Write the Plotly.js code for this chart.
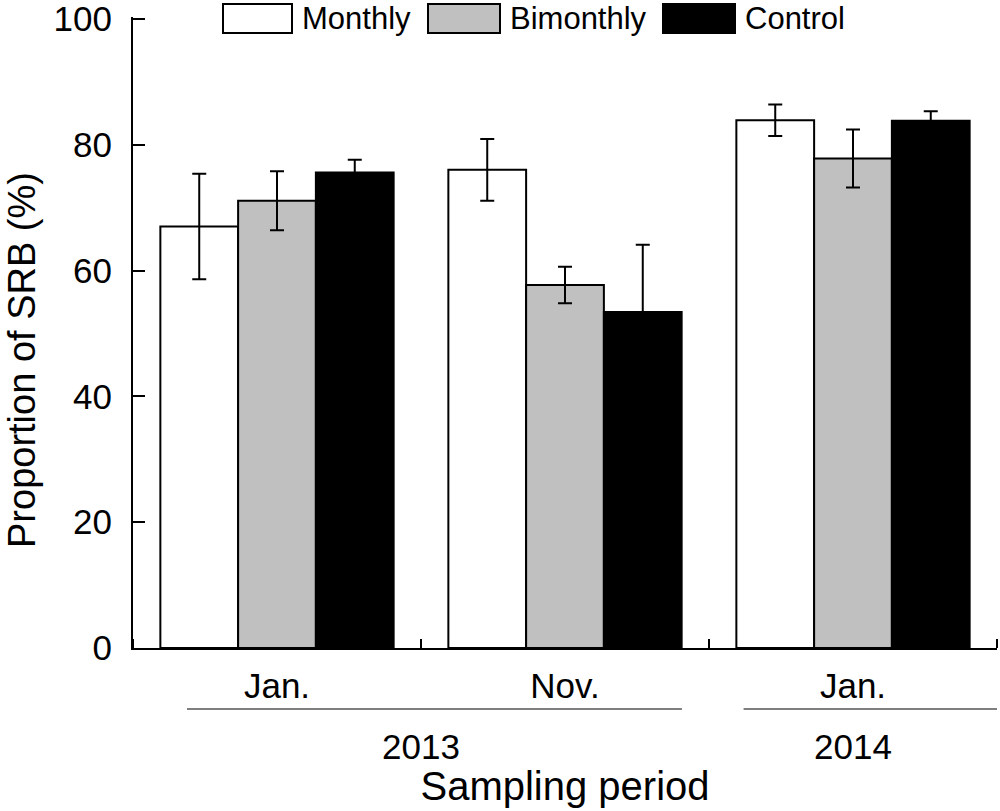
<!DOCTYPE html>
<html>
<head>
<meta charset="utf-8">
<script src="https://cdn.plot.ly/plotly-3.0.1.min.js"></script>
<style>html,body{margin:0;padding:0;background:#fff;}#chart{width:1000px;height:811px;}</style>
</head>
<body>
<div id="chart"></div>
<script>
// ---- data ----
var months = ["Jan.", "Nov.", "Jan."];
var years = ["2013", "2014"];
var seriesNames = ["Monthly", "Bimonthly", "Control"];
var monthly = [67.0, 76.0, 83.9];
var monthlyErr = [8.4, 4.9, 2.5];
var bimonthly = [71.1, 57.7, 77.8];
var bimonthlyErr = [4.7, 2.9, 4.6];
var control = [75.6, 53.4, 83.8];
var controlErr = [2.0, 10.7, 1.5];
var yTicks = [0, 20, 40, 60, 80, 100];

// ---- style ----
var FONT = "Liberation Sans, Arial, Helvetica, sans-serif";
var fills = ["#ffffff", "#c0c0c0", "#000000"];
var xIdx = months.map(function (_, i) { return i; });

function barTrace(name, vals, errs, fill) {
  return {
    type: "bar",
    name: name,
    x: xIdx,
    y: vals,
    marker: { color: fill, line: { color: "#000", width: 2 } },
    error_y: { type: "data", array: errs, visible: true, color: "#000", thickness: 2, width: 7 },
    showlegend: false,
    hoverinfo: "y+name"
  };
}

var data = [
  barTrace(seriesNames[0], monthly, monthlyErr, fills[0]),
  barTrace(seriesNames[1], bimonthly, bimonthlyErr, fills[1]),
  barTrace(seriesNames[2], control, controlErr, fills[2])
];

// plot-area geometry (pixels)
var PL = 133, PR = 997, PT = 17, PB = 648;
var YMAX = 100.3;
function px2x(px) { return (px - PL) / (PR - PL); }
function py2y(py) { return (PB - py) / (PB - PT); }

// legend (custom, large swatches)
var legendBoxes = [[223, 292], [428, 500], [663, 735]];
var legendTextX = [300, 508, 743];

var shapes = [];
var annotations = [];
seriesNames.forEach(function (n, i) {
  shapes.push({
    type: "rect", xref: "paper", yref: "paper",
    x0: px2x(legendBoxes[i][0]), x1: px2x(legendBoxes[i][1]),
    y0: py2y(33), y1: py2y(4),
    fillcolor: fills[i], line: { color: "#000", width: 2 }
  });
  annotations.push({
    xref: "paper", yref: "paper", x: px2x(legendTextX[i]), y: py2y(18.5),
    xanchor: "left", yanchor: "middle", showarrow: false,
    text: n, font: { family: FONT, size: 31, color: "#000" }
  });
});

// year group lines and labels
var yearSpans = [[-0.3125, 1.406], [1.62, 2.5]];
var yearCenters = [0.5, 2.0];
years.forEach(function (yr, i) {
  shapes.push({
    type: "line", xref: "x", yref: "paper",
    x0: yearSpans[i][0], x1: yearSpans[i][1],
    y0: py2y(709), y1: py2y(709),
    line: { color: "#555", width: 1.5 }
  });
  annotations.push({
    xref: "x", yref: "paper", x: yearCenters[i], y: py2y(746),
    xanchor: "center", yanchor: "middle", showarrow: false,
    text: yr, font: { family: FONT, size: 35, color: "#000" }
  });
});

// y-axis title (placed as in the reference, slightly below the plot centre)
annotations.push({
  xref: "paper", yref: "paper", x: px2x(22), y: py2y(360),
  xanchor: "center", yanchor: "middle", showarrow: false, textangle: -90,
  text: "Proportion of SRB (%)", font: { family: FONT, size: 38, color: "#000" }
});

var layout = {
  width: 1000,
  height: 811,
  paper_bgcolor: "#fff",
  plot_bgcolor: "#fff",
  margin: { l: PL, r: 1000 - PR, t: PT, b: 811 - PB },
  barmode: "group",
  bargap: 0.19,
  bargroupgap: 0,
  font: { family: FONT, color: "#000" },
  showlegend: false,
  xaxis: {
    range: [-0.5, 2.5],
    tickmode: "array",
    tickvals: xIdx,
    ticktext: months,
    ticks: "",
    ticklabelstandoff: 6,
    ticklabeloverflow: "allow",
    tickfont: { family: FONT, size: 35, color: "#000" },
    showgrid: false,
    zeroline: false,
    showline: true,
    linecolor: "#000",
    linewidth: 2,
    minor: { tickmode: "linear", tick0: 0.5, dtick: 1, ticks: "inside", ticklen: 9, tickwidth: 2, tickcolor: "#000", showgrid: false },
    title: { text: "Sampling period", font: { family: FONT, size: 40, color: "#000" }, standoff: 68 },
    fixedrange: true
  },
  yaxis: {
    range: [0, YMAX],
    tickmode: "array",
    tickvals: yTicks,
    ticktext: yTicks.map(String),
    ticks: "inside",
    ticklen: 12,
    tickwidth: 2,
    tickcolor: "#000",
    ticklabelstandoff: 12,
    ticklabeloverflow: "allow",
    tickfont: { family: FONT, size: 35, color: "#000" },
    showgrid: false,
    zeroline: false,
    showline: true,
    linecolor: "#000",
    linewidth: 2,
    fixedrange: true
  },
  shapes: shapes,
  annotations: annotations
};

Plotly.newPlot("chart", data, layout, { staticPlot: true, displayModeBar: false });
</script>
</body>
</html>
